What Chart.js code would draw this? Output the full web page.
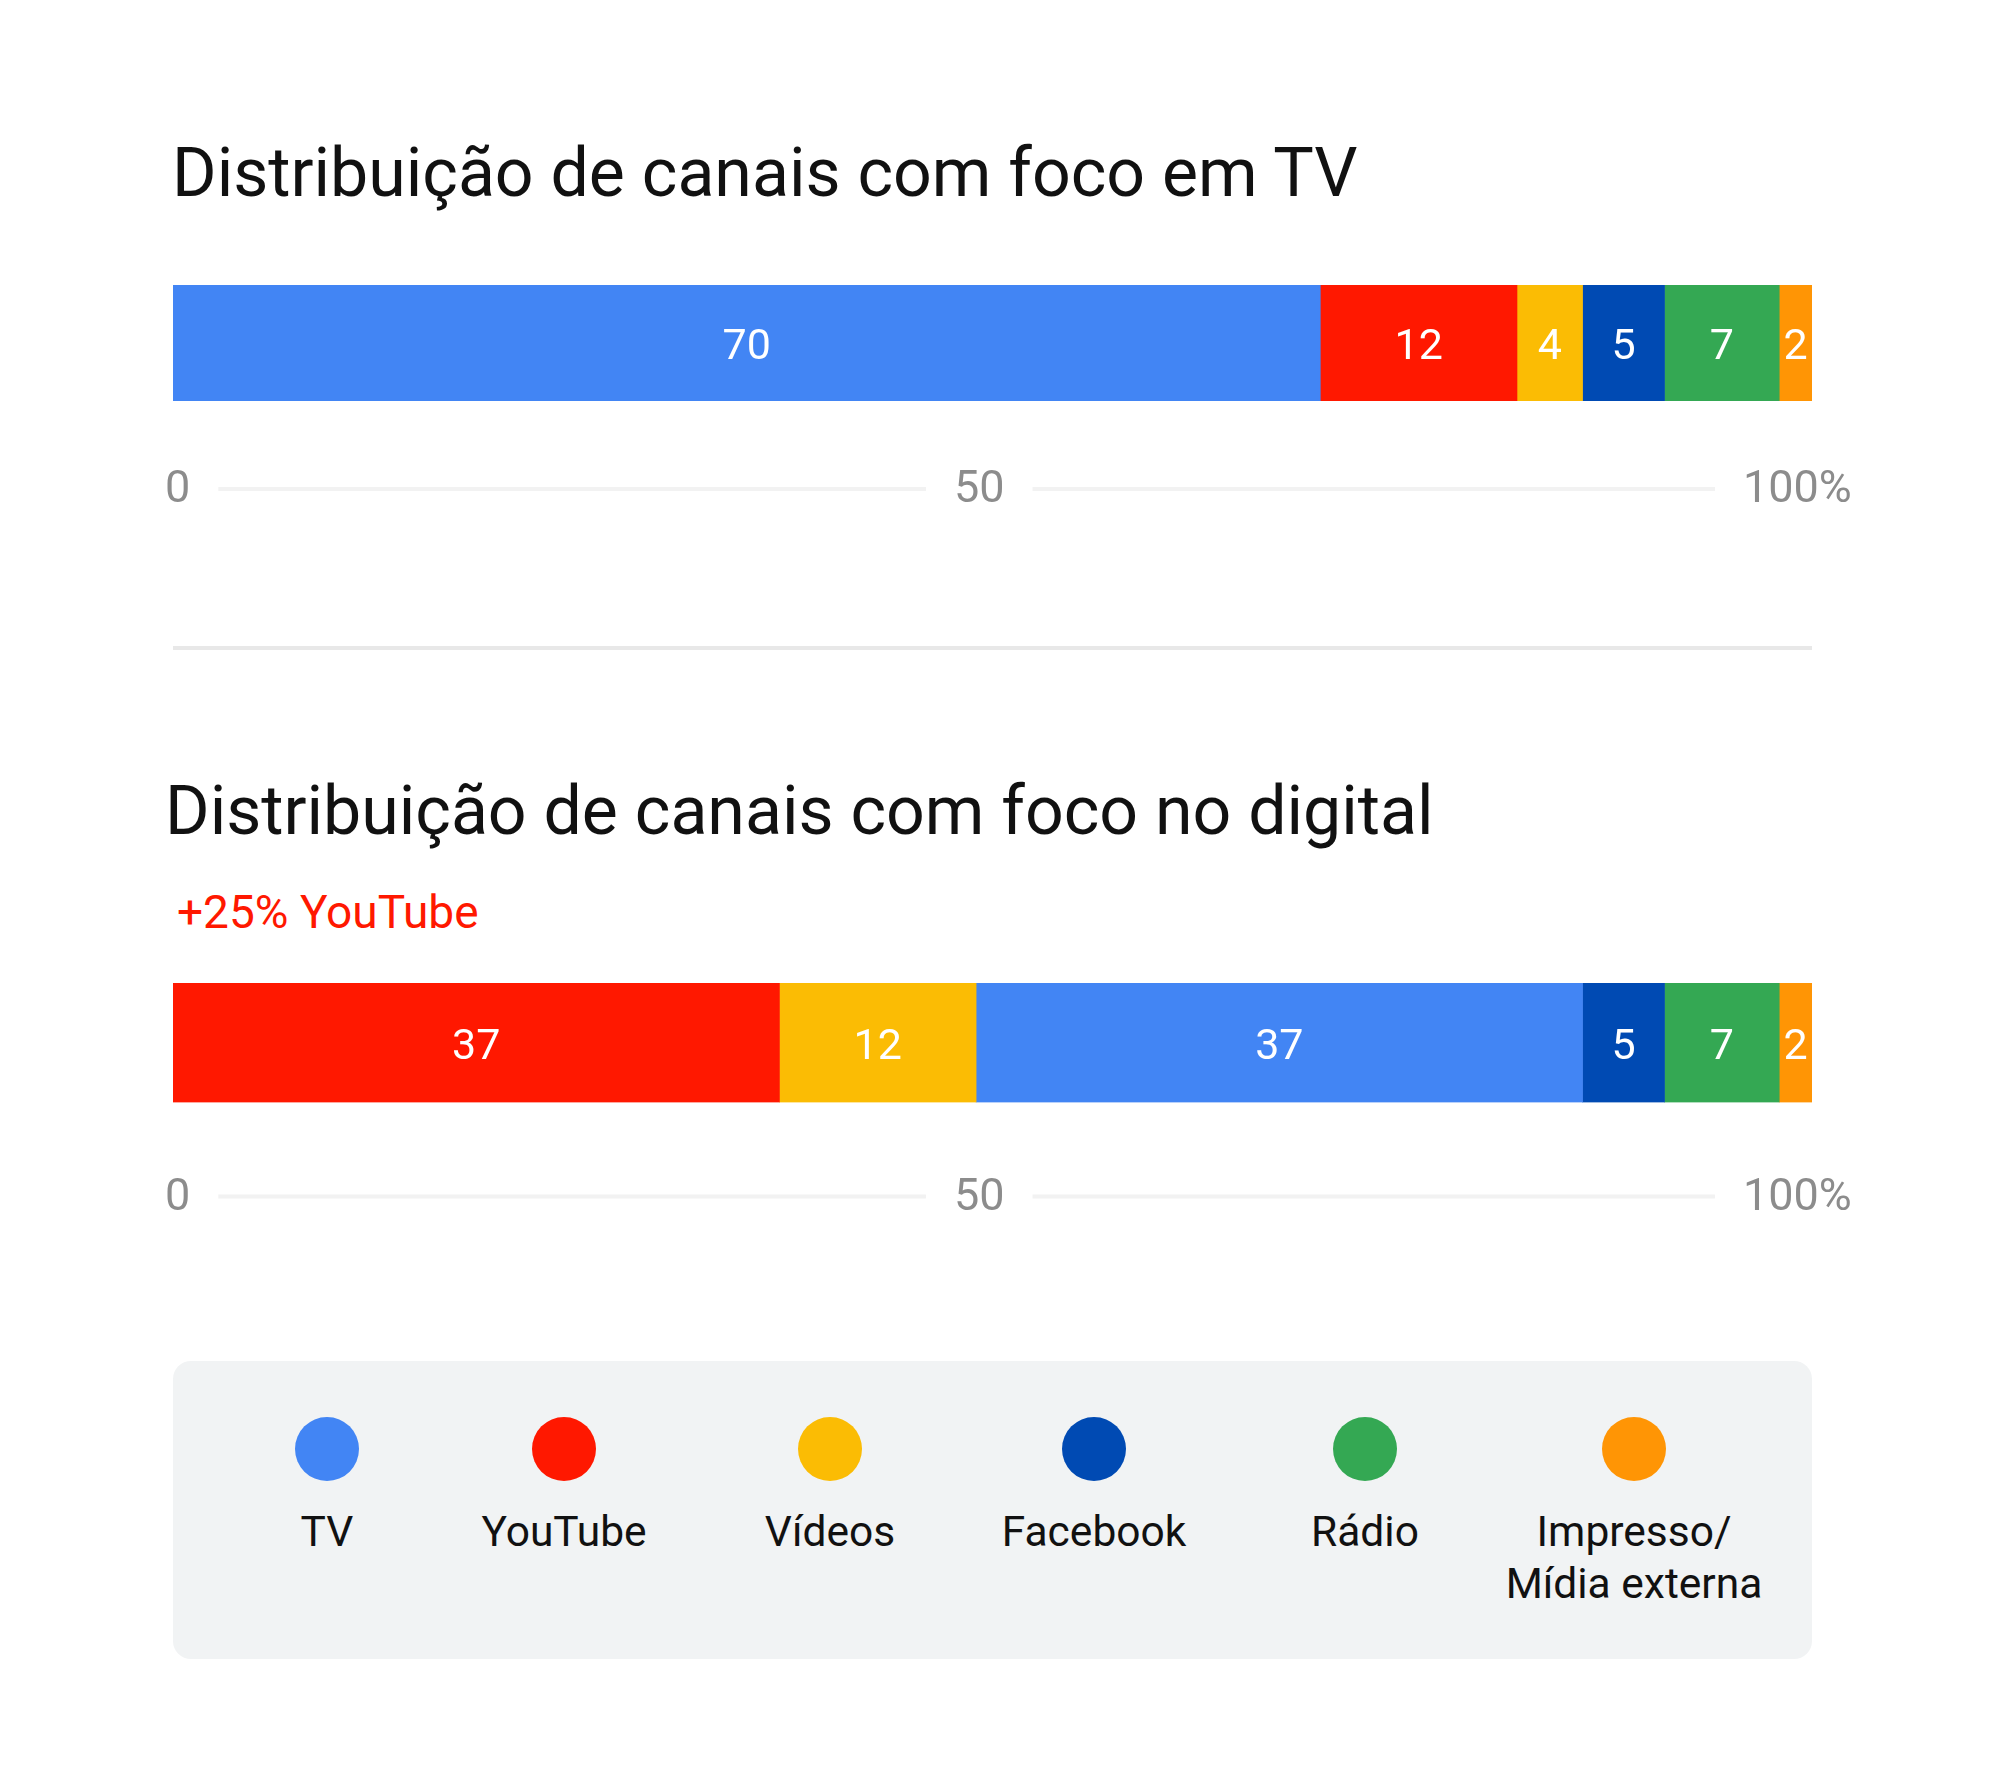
<!DOCTYPE html>
<html>
<head>
<meta charset="utf-8">
<script src="https://cdn.jsdelivr.net/npm/chart.js@4.4.0/dist/chart.umd.min.js"></script>
<style>
html,body{margin:0;padding:0;background:#fff;}
body{width:2000px;height:1790px;position:relative;overflow:hidden;font-family:Roboto, sans-serif;}
.title{position:absolute;font-size:68px;line-height:68px;color:#111;white-space:nowrap;font-weight:400;}
#t1{left:172px;top:139px;}
#t2{left:165px;top:777px;}
#note{position:absolute;left:177px;top:889px;font-size:46px;line-height:46px;color:#FF1800;white-space:nowrap;}
#sep{position:absolute;left:173px;top:646px;width:1639px;height:4px;background:#e8e8e8;}
canvas{position:absolute;left:0;}
#c1{top:245px;}
#c2{top:943px;}
#legend{position:absolute;left:173px;top:1361px;width:1639px;height:298px;background:#F1F3F4;border-radius:18px;}
.item{position:absolute;top:0;width:320px;margin-left:-160px;height:298px;}
.dot{position:absolute;left:128px;top:56px;width:64px;height:64px;border-radius:50%;}
.lab{position:absolute;left:0;width:320px;top:145px;font-size:42.5px;line-height:52px;color:#111;text-align:center;}
</style>
</head>
<body>
<div id="t1" class="title">Distribuição de canais com foco em TV</div>
<div id="sep"></div>
<div id="t2" class="title">Distribuição de canais com foco no digital</div>
<div id="note">+25% YouTube</div>
<canvas id="c1" width="2000" height="272"></canvas>
<canvas id="c2" width="2000" height="279"></canvas>
<div id="legend"></div>
<script>
// ---- data ----
const channels = ['TV', 'YouTube', 'Vídeos', 'Facebook', 'Rádio', 'Impresso/\nMídia externa'];
const channelColors = ['#4285F4', '#FF1800', '#FBBC04', '#004AB3', '#34A853', '#FF9505'];
// values in channel order
const tvFocusValues = [70, 12, 4, 5, 7, 2];
const digitalFocusValues = [37, 37, 12, 5, 7, 2];
// stacking order of segments (indices into channels)
const tvFocusOrder = [0, 1, 2, 3, 4, 5];
const digitalFocusOrder = [1, 2, 0, 3, 4, 5];
const tickValues = [0, 50, 100];
const tickLabels = ['0', '50', '100%'];

// ---- layout (not data) ----
const legendCenters = [154, 391, 657, 921, 1192, 1461];
const TICK_FONT = 45;

const valueLabels = {
  id: 'valueLabels',
  afterDatasetsDraw(chart) {
    const ctx = chart.ctx;
    ctx.save();
    ctx.fillStyle = '#ffffff';
    ctx.font = '43px Roboto';
    ctx.textAlign = 'center';
    ctx.textBaseline = 'middle';
    chart.data.datasets.forEach((ds, di) => {
      const meta = chart.getDatasetMeta(di);
      meta.data.forEach((bar, j) => {
        const p = bar.getProps(['x', 'y', 'base'], true);
        ctx.fillText(String(ds.data[j]), (p.x + p.base) / 2, p.y + 5);
      });
    });
    ctx.restore();
  }
};

const axisLine = {
  id: 'axisLine',
  afterDraw(chart) {
    const s = chart.scales.x2;
    const ctx = chart.ctx;
    ctx.save();
    ctx.font = TICK_FONT + 'px Roboto';
    const spans = s.ticks.map((t, i) => {
      const px = s.getPixelForTick(i);
      const w = ctx.measureText(tickLabels[i]).width;
      return [px, px + w];
    });
    const y = s.top + s.options.ticks.padding + TICK_FONT * 0.6 - 2;
    ctx.strokeStyle = '#f2f2f2';
    ctx.lineWidth = 4;
    for (let i = 0; i < spans.length - 1; i++) {
      ctx.beginPath();
      ctx.moveTo(spans[i][1] + 28, y);
      ctx.lineTo(spans[i + 1][0] - 28, y);
      ctx.stroke();
    }
    ctx.restore();
  }
};

function makeChart(id, order, values, tickPad) {
  const datasets = order.map(i => ({
    label: channels[i].replace('\n', ' '),
    data: [values[i]],
    backgroundColor: channelColors[i],
    borderWidth: 0,
    categoryPercentage: 1,
    barPercentage: 1
  }));
  return new Chart(document.getElementById(id), {
    type: 'bar',
    data: { labels: [''], datasets },
    options: {
      indexAxis: 'y',
      responsive: false,
      animation: false,
      devicePixelRatio: 1,
      layout: { padding: { left: 173, right: 188, top: 40, bottom: 0 } },
      plugins: { legend: { display: false }, tooltip: { enabled: false } },
      scales: {
        x: { type: 'linear', stacked: true, min: 0, max: 100, display: false },
        x2: {
          type: 'linear', position: 'bottom', min: 0.507, max: 104.373,
          grid: { display: false, drawTicks: false },
          border: { display: false },
          afterBuildTicks: sc => { sc.ticks = tickValues.map(v => ({ value: v })); },
          ticks: {
            padding: tickPad,
            align: 'start',
            font: { family: 'Roboto', size: TICK_FONT },
            color: '#8c8c8c',
            maxRotation: 0,
            autoSkip: false,
            callback: (v, i) => tickLabels[i]
          }
        },
        y: { stacked: true, display: false }
      }
    },
    plugins: [valueLabels, axisLine]
  });
}

makeChart('c1', tvFocusOrder, tvFocusValues, 63);
makeChart('c2', digitalFocusOrder, digitalFocusValues, 69);

// legend
const lg = document.getElementById('legend');
channels.forEach((name, i) => {
  const it = document.createElement('div');
  it.className = 'item';
  it.style.left = legendCenters[i] + 'px';
  const d = document.createElement('div');
  d.className = 'dot';
  d.style.background = channelColors[i];
  const l = document.createElement('div');
  l.className = 'lab';
  l.innerHTML = name.split('\n').join('<br>');
  it.appendChild(d); it.appendChild(l);
  lg.appendChild(it);
});
</script>
</body>
</html>
